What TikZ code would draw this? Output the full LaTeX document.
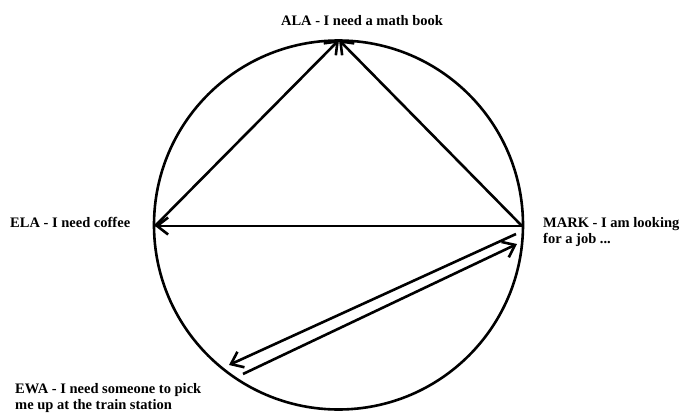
\documentclass[tikz,border=0pt]{standalone}
\usepackage{fontspec}
\setmainfont{Liberation Serif}
\usepackage{tikz}
\usetikzlibrary{arrows.meta,positioning}

\begin{document}
\begin{tikzpicture}[
    x=1pt, y=-1pt,
    person/.style={font=\fontsize{14.5}{16}\selectfont\bfseries, align=left, inner sep=0pt},
    arrow/.style={-{Straight Barb[length=11pt,width=17pt,line width=2.6pt]}, line width=2.6pt},
    ring/.style={line width=2.6pt}
  ]
  \useasboundingbox (0,0) rectangle (681,415);

  \coordinate (centre) at (338.5,225);
  \draw[ring] (centre) circle (184.5);

  \coordinate (ala)  at (339,40);
  \coordinate (ela)  at (155,226);
  \coordinate (mark) at (522,226);
  % the two lines between Mark and Ewa
  \coordinate (markout) at (516,234);
  \coordinate (ewain)   at (229,365);
  \coordinate (ewaout)  at (243,374);
  \coordinate (markin)  at (517,244);

  \node[person, anchor=center] (alatxt) at (362,21) {ALA - I need a math book};
  \node[person, anchor=west] (elatxt) at (10,222.5) {ELA - I need coffee};
  \node[person, anchor=north west] (marktxt) at (543,217) {MARK - I am looking\\for a job ...};
  \node[person, anchor=north west] (ewatxt) at (15,383) {EWA - I need someone to pick\\me up at the train station};

  \draw[arrow] (ela) -- (ala);
  \draw[arrow] (mark) -- (ala);
  \draw[arrow] (mark) -- (ela);
  \draw[arrow] (markout) -- (ewain);
  \draw[arrow] (ewaout) -- (markin);
\end{tikzpicture}
\end{document}
